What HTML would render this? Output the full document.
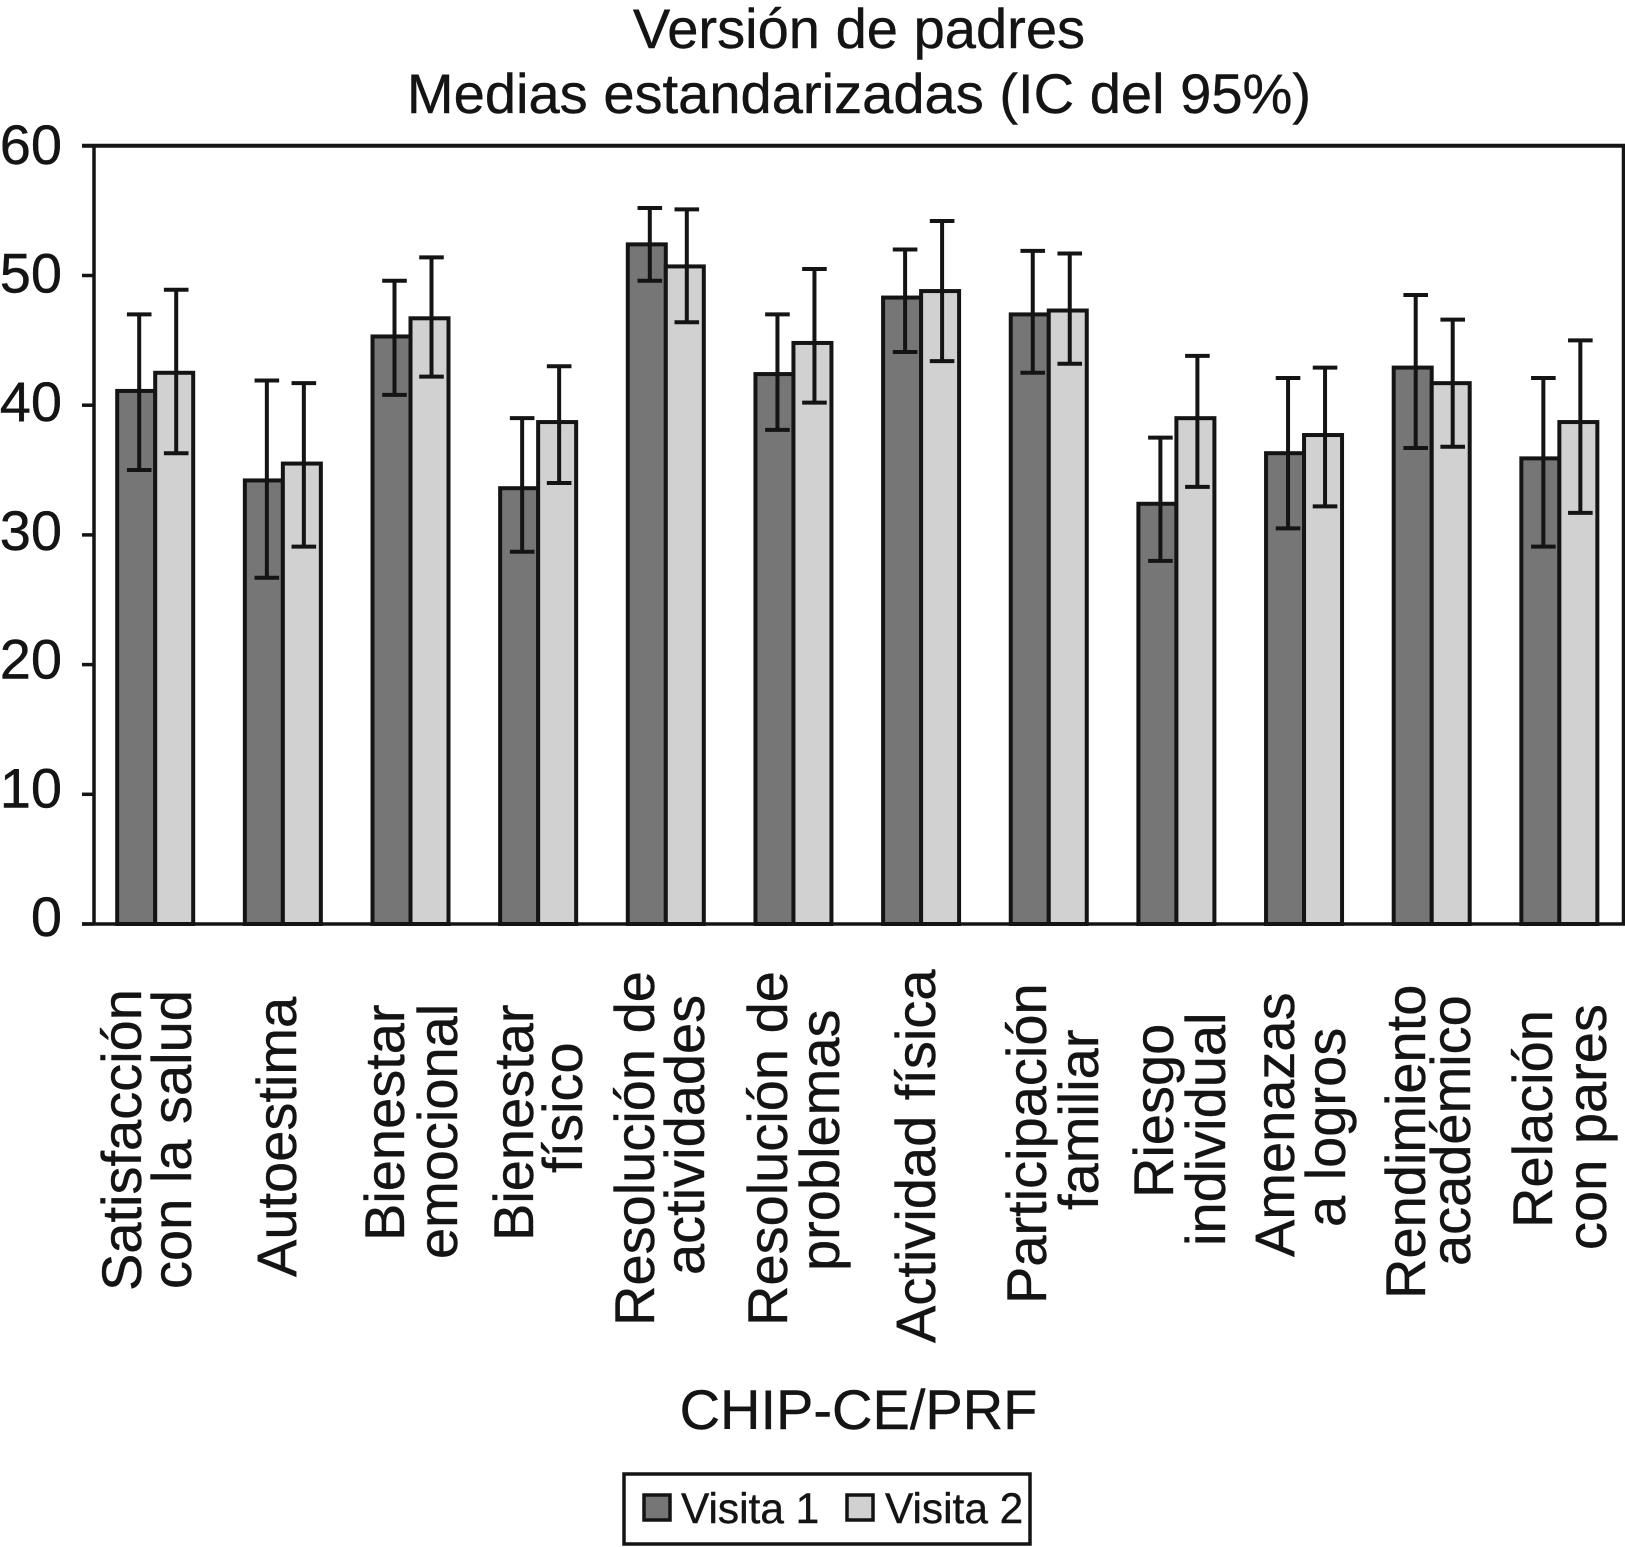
<!DOCTYPE html>
<html lang="es">
<head>
<meta charset="utf-8">
<title>Versión de padres</title>
<style>
html,body{margin:0;padding:0;background:#fff;}
svg{display:block;font-family:"Liberation Sans",Arial,sans-serif;fill:#141414;}
svg text{stroke:#141414;stroke-width:.4px;}
</style>
</head>
<body>
<svg id="chart" xmlns="http://www.w3.org/2000/svg" width="1625" height="1547" viewBox="0 0 1625 1547">
  <rect x="0" y="0" width="1625" height="1547" fill="#ffffff"/>
  <text x="859" y="48" font-size="56.1" text-anchor="middle">Versión de padres</text>
  <text x="859" y="113" font-size="56.1" text-anchor="middle">Medias estandarizadas (IC del 95%)</text>
  <g id="plot"></g>
  <text x="858.5" y="1429" font-size="56" text-anchor="middle">CHIP-CE/PRF</text>
  <g>
    <rect x="624" y="1474" width="406" height="70" fill="#ffffff" stroke="#141414" stroke-width="3.5"/>
    <rect x="644" y="1495" width="26" height="25" fill="#767676" stroke="#141414" stroke-width="3.5"/>
    <text x="681" y="1523" font-size="42.4">Visita 1</text>
    <rect x="847" y="1495" width="26" height="25" fill="#d1d1d1" stroke="#141414" stroke-width="3.5"/>
    <text x="885" y="1523" font-size="42.4">Visita 2</text>
  </g>
</svg>
<script>
// ---- chart data ----
var categories = [
  ["Satisfacción", "con la salud"],
  ["Autoestima"],
  ["Bienestar", "emocional"],
  ["Bienestar", "físico"],
  ["Resolución de", "actividades"],
  ["Resolución de", "problemas"],
  ["Actividad física"],
  ["Participación", "familiar"],
  ["Riesgo", "individual"],
  ["Amenazas", "a logros"],
  ["Rendimiento", "académico"],
  ["Relación", "con pares"]
];
var yTickValues = [0, 10, 20, 30, 40, 50, 60];
var visita1Means = [41.1, 34.2, 45.3, 33.6, 52.4, 42.4, 48.3, 47.0, 32.4, 36.3, 42.9, 35.9];
var visita1Upper = [47.0, 41.9, 49.6, 39.0, 55.2, 47.0, 52.0, 51.9, 37.5, 42.1, 48.5, 42.1];
var visita1Lower = [35.0, 26.7, 40.8, 28.7, 49.6, 38.1, 44.1, 42.5, 28.0, 30.5, 36.7, 29.1];
var visita2Means = [42.5, 35.5, 46.7, 38.7, 50.7, 44.8, 48.8, 47.3, 39.0, 37.7, 41.7, 38.7];
var visita2Upper = [48.9, 41.7, 51.4, 43.0, 55.1, 50.5, 54.2, 51.7, 43.8, 42.9, 46.6, 45.0];
var visita2Lower = [36.3, 29.1, 42.2, 34.0, 46.4, 40.2, 43.4, 43.2, 33.7, 32.2, 36.8, 31.7];

// ---- layout (not data): baseline x and bottom y of each rotated label line ----
var labelLayout = [
  [[141, 1291], [191, 1289]],
  [[296, 1277]],
  [[404, 1241], [457, 1259]],
  [[533, 1241], [582, 1173]],
  [[654, 1326], [704, 1275]],
  [[787, 1326], [839, 1271]],
  [[935, 1343]],
  [[1046, 1304], [1098, 1210]],
  [[1173, 1198], [1225, 1246]],
  [[1294, 1257], [1345, 1227]],
  [[1425, 1299], [1470, 1266]],
  [[1552, 1228], [1606, 1250]]
];

// ---- axis functions ----
var INK = "#141414";
function yScale(v) { return 924 - 12.97 * v; }
function yLabelBaseline(v) { return 936 - 12.87 * v; }
function groupCenter(i) { return 155.2 + 127.65 * i; }
var BAR_W = 38;
var WHISKER_V1 = -16;
var WHISKER_V2 = 21;
var CAP = 12.3;
var STROKE = 4;

var plot = document.getElementById("plot");
var NS = "http://www.w3.org/2000/svg";
function make(tag, attrs, parent) {
  var e = document.createElementNS(NS, tag);
  for (var k in attrs) { e.setAttribute(k, attrs[k]); }
  (parent || plot).appendChild(e);
  return e;
}
function line(x1, y1, x2, y2, w, parent) {
  return make("line", {x1: x1, y1: y1, x2: x2, y2: y2, stroke: INK, "stroke-width": w}, parent);
}

// bars and whiskers
categories.forEach(function (cat, i) {
  var slug = cat.join("-").toLowerCase().replace(/\s+/g, "-");
  var c = groupCenter(i);

  var g = make("g", {});
  
  

  var b1 = make("rect", {x: c - BAR_W, y: yScale(visita1Means[i]), width: BAR_W, height: yScale(0) - yScale(visita1Means[i]), fill: "#767676", stroke: INK, "stroke-width": STROKE}, g);
  
  

  var e1 = make("g", {}, g);
  
  
  var x1 = c + WHISKER_V1;
  line(x1, yScale(visita1Upper[i]), x1, yScale(visita1Lower[i]), STROKE, e1);
  line(x1 - CAP, yScale(visita1Upper[i]), x1 + CAP, yScale(visita1Upper[i]), STROKE, e1);
  line(x1 - CAP, yScale(visita1Lower[i]), x1 + CAP, yScale(visita1Lower[i]), STROKE, e1);

  var b2 = make("rect", {x: c, y: yScale(visita2Means[i]), width: BAR_W, height: yScale(0) - yScale(visita2Means[i]), fill: "#d1d1d1", stroke: INK, "stroke-width": STROKE}, g);
  
  

  var e2 = make("g", {}, g);
  
  
  var x2 = c + WHISKER_V2;
  line(x2, yScale(visita2Upper[i]), x2, yScale(visita2Lower[i]), STROKE, e2);
  line(x2 - CAP, yScale(visita2Upper[i]), x2 + CAP, yScale(visita2Upper[i]), STROKE, e2);
  line(x2 - CAP, yScale(visita2Lower[i]), x2 + CAP, yScale(visita2Lower[i]), STROKE, e2);

  // category label lines
  cat.forEach(function (txt, j) {
    var pos = labelLayout[i][j];
    var t = make("text", {transform: "translate(" + pos[0] + "," + pos[1] + ") rotate(-90)", "font-size": 56}, g);
    t.textContent = txt;
    
    
  });
});

// frame
var frame = make("g", {});


line(94, yScale(60), 94, yScale(0), 3.5, frame);
line(1623.5, yScale(60), 1623.5, yScale(0), 3.5, frame);
line(82, yScale(60), 1625, yScale(60), 4, frame);
line(82, yScale(0), 1625, yScale(0), 3.5, frame);

// y axis ticks and labels
yTickValues.forEach(function (v) {
  var tick = line(82, yScale(v), 94, yScale(v), 3.5);
  
  
  var lab = make("text", {x: 62, y: yLabelBaseline(v), "font-size": 56, "text-anchor": "end"});
  lab.textContent = String(v);
  
  
});
</script>
</body>
</html>
